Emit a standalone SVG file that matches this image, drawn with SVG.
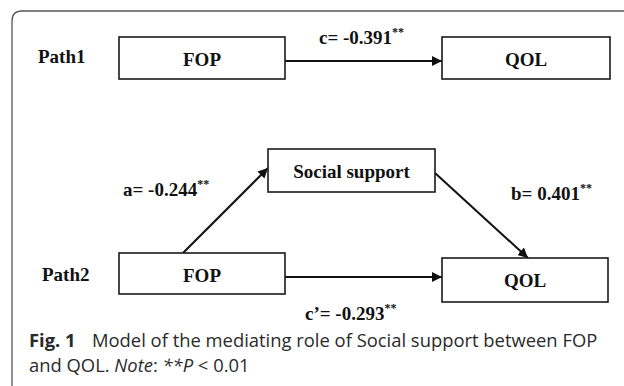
<svg xmlns="http://www.w3.org/2000/svg" width="624" height="386" viewBox="0 0 624 386">
<style>
  .box { fill: #fff; stroke: #1a1a1a; stroke-width: 1.6; }
  .lbl { font-family: "Liberation Serif", "Times New Roman", serif; font-weight: bold; font-size: 19px; fill: #111; }
  .sup { font-size: 12px; }
  .cnx { stroke: #111; stroke-width: 2; fill: none; }
  .cap { font-family: "Open Sans", "Noto Sans", sans-serif; font-size: 18.4px; fill: #2a2a2a; }
</style>
<defs>
  <marker id="ah" viewBox="0 0 10 10" refX="10" refY="5" markerWidth="5" markerHeight="5" orient="auto" markerUnits="strokeWidth">
    <path d="M0,0 L10,5 L0,10 z" fill="#111"/>
  </marker>
</defs>
<rect width="624" height="386" fill="#fff"/>
<path d="M12,392 V21 Q12,11 22,11 H630" fill="none" stroke="#555" stroke-width="1.3"/>

<g id="connectors">
  <line class="cnx" x1="285" y1="61" x2="442" y2="61" marker-end="url(#ah)"/>
  <line class="cnx" x1="183" y1="253" x2="268" y2="168" marker-end="url(#ah)"/>
  <line class="cnx" x1="435" y1="173" x2="528" y2="258" marker-end="url(#ah)"/>
  <line class="cnx" x1="285" y1="277" x2="442" y2="277" marker-end="url(#ah)"/>
  <text class="lbl" x="319" y="44">c= -0.391<tspan class="sup" dy="-8">**</tspan></text>
  <text class="lbl" x="123" y="196">a= -0.244<tspan class="sup" dy="-8">**</tspan></text>
  <text class="lbl" x="511" y="200">b= 0.401<tspan class="sup" dy="-8">**</tspan></text>
  <text class="lbl" x="305" y="320">c’= -0.293<tspan class="sup" dy="-8">**</tspan></text>
</g>

<g id="label-path1"><text class="lbl" x="38" y="63">Path1</text></g>
<g id="label-path2"><text class="lbl" x="42" y="281">Path2</text></g>

<g id="fop1">
  <rect class="box" x="119" y="37" width="166" height="42"/>
  <text class="lbl" x="202" y="66" text-anchor="middle">FOP</text>
</g>
<g id="qol1">
  <rect class="box" x="442" y="37" width="168" height="42"/>
  <text class="lbl" x="526" y="66" text-anchor="middle">QOL</text>
</g>
<g id="social">
  <rect class="box" x="268" y="149" width="167" height="43"/>
  <text class="lbl" x="351.5" y="178" text-anchor="middle">Social support</text>
</g>
<g id="fop2">
  <rect class="box" x="119" y="253" width="166" height="41"/>
  <text class="lbl" x="202" y="282" text-anchor="middle">FOP</text>
</g>
<g id="qol2">
  <rect class="box" x="442" y="258" width="166" height="44"/>
  <text class="lbl" x="525" y="287" text-anchor="middle">QOL</text>
</g>

<g id="caption">
  <text class="cap" x="29" y="347"><tspan font-weight="bold">Fig. 1</tspan><tspan x="92">Model of the mediating role of Social support between FOP</tspan></text>
  <text class="cap" x="29" y="372">and QOL. <tspan font-style="italic">Note</tspan>: <tspan font-style="italic">**P</tspan> &lt; 0.01</text>
</g>
</svg>
